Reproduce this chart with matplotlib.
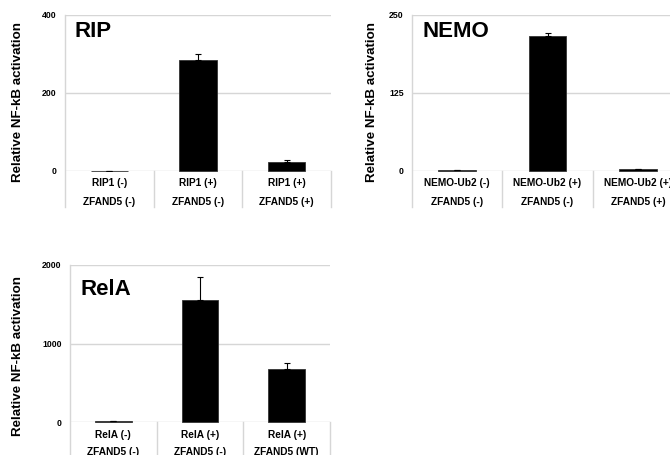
import numpy as np
import matplotlib
matplotlib.use('Agg')
import matplotlib.pyplot as plt

plt.rcParams['font.family'] = ['Liberation Sans', 'DejaVu Sans']
plt.rcParams['font.weight'] = 'bold'

# data
rip_top = ['RIP1 (-)', 'RIP1 (+)', 'RIP1 (+)']
rip_bot = ['ZFAND5 (-)', 'ZFAND5 (-)', 'ZFAND5 (+)']
rip_values = [1, 284, 24]
rip_errors = [0, 15, 5]
rip_ticks = [0, 200, 400]

nemo_top = ['NEMO-Ub2 (-)', 'NEMO-Ub2 (+)', 'NEMO-Ub2 (+)']
nemo_bot = ['ZFAND5 (-)', 'ZFAND5 (-)', 'ZFAND5 (+)']
nemo_values = [1, 216, 3]
nemo_errors = [0, 5, 0]
nemo_ticks = [0, 125, 250]

rela_top = ['RelA (-)', 'RelA (+)', 'RelA (+)']
rela_bot = ['ZFAND5 (-)', 'ZFAND5 (-)', 'ZFAND5 (WT)']
rela_values = [10, 1555, 678]
rela_errors = [0, 297, 72]
rela_ticks = [0, 1000, 2000]

W, H = 670, 455
fig = plt.figure(figsize=(W / 100, H / 100), dpi=100)
fig.patch.set_facecolor('white')

GRID = '#d6d6d6'
YLAB = 'Relative NF-kB activation'


def panel(box, title, title_dy, tops, bots, values, errors, ticks,
          below, row1, row2, ylab_xy):
    left, right, top, zero = box
    h = zero - top
    ax = fig.add_axes([left / W, 1 - zero / H, (right - left) / W, h / H])
    ax.set_xlim(0, 3)
    ax.set_ylim(0, ticks[-1])
    for s in ax.spines.values():
        s.set_visible(False)
    ax.set_yticks(ticks)
    ax.set_yticklabels([str(t) for t in ticks], fontsize=6.3, fontweight='bold')
    ax.tick_params(axis='y', length=0, pad=6)
    ax.set_xticks([])
    for t in ticks:
        ax.axhline(t, color=GRID, lw=1, zorder=0)

    x = np.arange(3) + 0.5
    ax.bar(x, values, width=0.42, color='black', edgecolor='#333333',
           lw=0.6, zorder=2, clip_on=False)
    ax.errorbar(x, values, yerr=[np.zeros(3), errors], fmt='none',
                ecolor='black', elinewidth=0.8, capsize=2.2, capthick=0.8,
                zorder=3)

    tr = ax.get_xaxis_transform()
    for sx in range(4):
        y0 = 1.0 if sx == 0 else 0.0
        ax.plot([sx, sx], [y0, -below / h], color=GRID, lw=1,
                transform=tr, clip_on=False, zorder=1)
    for i in range(3):
        ax.text(x[i], -row1 / h, tops[i], transform=tr, ha='center',
                va='center', fontsize=7.3, fontweight='bold')
        ax.text(x[i], -row2 / h, bots[i], transform=tr, ha='center',
                va='center', fontsize=7.3, fontweight='bold')

    ax.text(10 / (right - left), 1 - title_dy / h, title,
            transform=ax.transAxes, ha='left', va='top', fontsize=16,
            fontweight='bold')
    fig.text(ylab_xy[0] / W, 1 - ylab_xy[1] / H, YLAB, rotation=90,
             ha='center', va='center', fontsize=9.6, fontweight='bold')
    return ax


panel((65, 331, 15, 171), 'RIP', 6, rip_top, rip_bot, rip_values,
      rip_errors, rip_ticks, 36, 12, 31, (18, 102))
panel((412, 683, 15, 171), 'NEMO', 6, nemo_top, nemo_bot, nemo_values,
      nemo_errors, nemo_ticks, 36, 12, 31, (372, 102))
panel((70, 330, 265, 422), 'RelA', 14, rela_top, rela_bot, rela_values,
      rela_errors, rela_ticks, 40, 13, 30, (18, 356))

fig.savefig('out.png', dpi=100)
